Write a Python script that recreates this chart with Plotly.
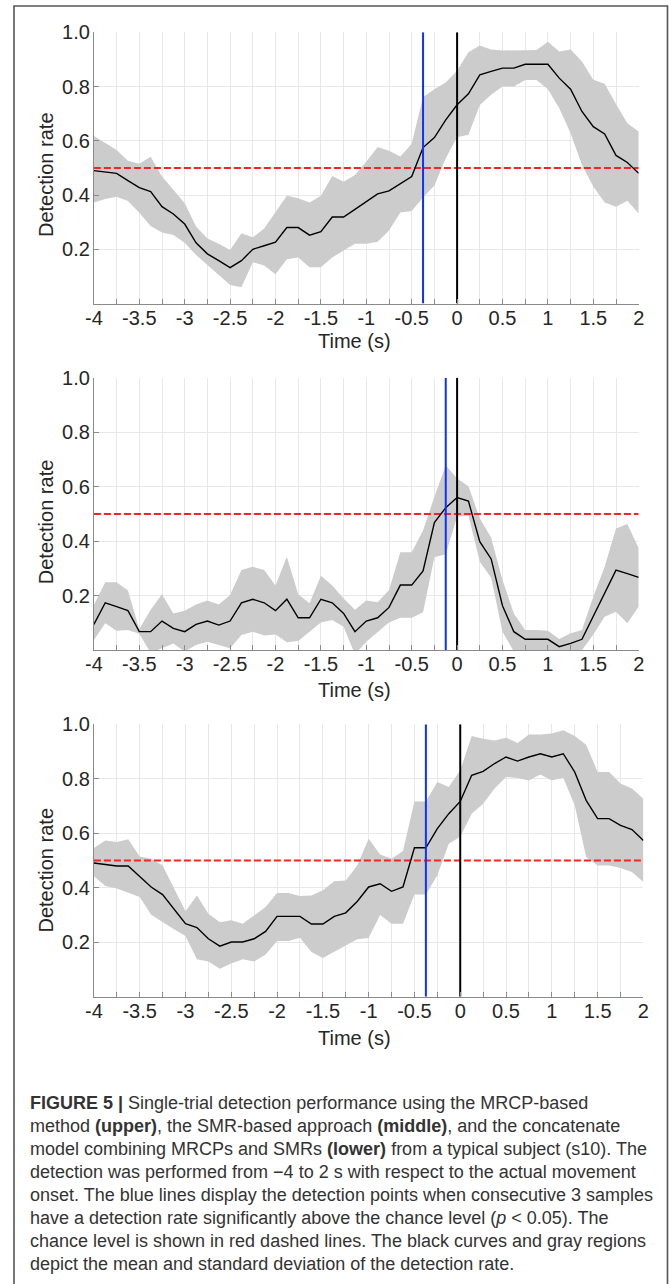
import plotly.graph_objects as go

W, H = 669, 1284

# ---------------- data ----------------
time_s = [-4 + 0.125 * i for i in range(49)]

mrcp_mean = [0.490, 0.485, 0.480, 0.453, 0.427, 0.413, 0.357, 0.330, 0.293, 0.224, 0.183, 0.158, 0.132,
             0.158, 0.200, 0.213, 0.226, 0.280, 0.280, 0.252, 0.265, 0.319, 0.319, 0.347, 0.376, 0.404,
             0.415, 0.441, 0.468, 0.575, 0.612, 0.677, 0.733, 0.773, 0.843, 0.856, 0.868, 0.868, 0.882,
             0.882, 0.882, 0.831, 0.790, 0.708, 0.652, 0.625, 0.546, 0.520, 0.480]
mrcp_upper = [0.618, 0.591, 0.566, 0.526, 0.515, 0.541, 0.468, 0.419, 0.370, 0.284, 0.240, 0.220, 0.197,
              0.259, 0.244, 0.277, 0.335, 0.397, 0.388, 0.372, 0.397, 0.470, 0.449, 0.474, 0.523, 0.577,
              0.563, 0.542, 0.589, 0.761, 0.790, 0.815, 0.858, 0.926, 0.951, 0.937, 0.933, 0.933, 0.935,
              0.935, 0.965, 0.929, 0.937, 0.892, 0.825, 0.810, 0.736, 0.665, 0.634]
mrcp_lower = [0.372, 0.385, 0.394, 0.378, 0.335, 0.286, 0.262, 0.253, 0.224, 0.179, 0.142, 0.105, 0.068,
              0.060, 0.152, 0.140, 0.108, 0.163, 0.170, 0.134, 0.134, 0.170, 0.195, 0.220, 0.220, 0.228,
              0.269, 0.336, 0.341, 0.391, 0.435, 0.536, 0.613, 0.622, 0.732, 0.770, 0.800, 0.800, 0.824,
              0.824, 0.790, 0.720, 0.628, 0.511, 0.431, 0.372, 0.357, 0.379, 0.332]

smr_mean = [0.095, 0.174, 0.160, 0.145, 0.068, 0.068, 0.107, 0.080, 0.068, 0.095, 0.107, 0.092, 0.107,
            0.174, 0.187, 0.174, 0.145, 0.187, 0.119, 0.119, 0.187, 0.174, 0.135, 0.068, 0.107, 0.119,
            0.157, 0.239, 0.239, 0.291, 0.468, 0.523, 0.560, 0.547, 0.398, 0.335, 0.163, 0.068, 0.040,
            0.040, 0.040, 0.013, 0.025, 0.040, 0.123, 0.205, 0.294, 0.281, 0.267]
smr_upper = [0.166, 0.249, 0.249, 0.219, 0.077, 0.148, 0.205, 0.135, 0.145, 0.168, 0.182, 0.168, 0.203,
             0.294, 0.306, 0.294, 0.237, 0.343, 0.205, 0.172, 0.273, 0.237, 0.190, 0.148, 0.182, 0.176,
             0.221, 0.359, 0.359, 0.439, 0.563, 0.679, 0.630, 0.602, 0.484, 0.413, 0.258, 0.135, 0.074,
             0.074, 0.071, 0.041, 0.062, 0.074, 0.196, 0.306, 0.447, 0.463, 0.374]
smr_lower = [0.037, 0.099, 0.071, 0.074, 0.060, -0.010, 0.007, 0.025, -0.005, 0.019, 0.031, 0.019, 0.007,
             0.056, 0.068, 0.054, 0.058, 0.029, 0.034, 0.068, 0.102, 0.111, 0.086, -0.015, 0.031, 0.068,
             0.102, 0.119, 0.119, 0.139, 0.341, 0.352, 0.490, 0.494, 0.325, 0.266, 0.068, -0.005, -0.030,
             -0.010, -0.010, -0.020, -0.010, 0.000, 0.058, 0.123, 0.141, 0.099, 0.160]

comb_mean = [0.491, 0.486, 0.480, 0.480, 0.440, 0.403, 0.375, 0.321, 0.268, 0.254, 0.213, 0.186, 0.201,
             0.201, 0.213, 0.240, 0.295, 0.295, 0.295, 0.267, 0.267, 0.295, 0.308, 0.350, 0.403, 0.415,
             0.387, 0.403, 0.547, 0.547, 0.617, 0.672, 0.717, 0.813, 0.827, 0.856, 0.880, 0.865, 0.880,
             0.892, 0.880, 0.892, 0.825, 0.721, 0.654, 0.654, 0.629, 0.614, 0.574]
comb_upper = [0.546, 0.574, 0.568, 0.578, 0.515, 0.507, 0.482, 0.397, 0.314, 0.372, 0.305, 0.274, 0.281,
              0.268, 0.299, 0.330, 0.381, 0.381, 0.370, 0.372, 0.391, 0.424, 0.427, 0.482, 0.580, 0.522,
              0.507, 0.535, 0.717, 0.717, 0.788, 0.770, 0.831, 0.957, 0.947, 0.941, 0.951, 0.931, 0.963,
              0.963, 0.966, 0.978, 0.957, 0.925, 0.825, 0.825, 0.783, 0.764, 0.727]
comb_lower = [0.442, 0.407, 0.397, 0.382, 0.366, 0.301, 0.274, 0.248, 0.223, 0.138, 0.130, 0.103, 0.122,
              0.138, 0.130, 0.155, 0.205, 0.205, 0.217, 0.164, 0.142, 0.167, 0.189, 0.211, 0.216, 0.300,
              0.268, 0.268, 0.375, 0.375, 0.446, 0.562, 0.587, 0.672, 0.708, 0.764, 0.807, 0.803, 0.794,
              0.816, 0.794, 0.804, 0.703, 0.513, 0.482, 0.482, 0.473, 0.458, 0.421]

detection_points = [-0.375, -0.125, -0.375]   # blue lines (s)
onset_time = 0.0                               # black line (s)
chance_level = 0.5                             # red dashed line

x_major_vals = [-4, -3.5, -3, -2.5, -2, -1.5, -1, -0.5, 0, 0.5, 1, 1.5, 2]
x_major_text = ["-4", "-3.5", "-3", "-2.5", "-2", "-1.5", "-1", "-0.5", "0", "0.5", "1", "1.5", "2"]
x_minor_vals = [-4 + 0.25 * i for i in range(25)]
y_tick_vals = [0.2, 0.4, 0.6, 0.8, 1.0]
y_tick_text = ["0.2", "0.4", "0.6", "0.8", "1.0"]

caption_lines = [
    "<b>FIGURE 5 |</b> Single-trial detection performance using the MRCP-based",
    "method <b>(upper)</b>, the SMR-based approach <b>(middle)</b>, and the concatenate",
    "model combining MRCPs and SMRs <b>(lower)</b> from a typical subject (s10). The",
    "detection was performed from \u22124 to 2 s with respect to the actual movement",
    "onset. The blue lines display the detection points when consecutive 3 samples",
    "have a detection rate significantly above the chance level (<i>p</i> &lt; 0.05). The",
    "chance level is shown in red dashed lines. The black curves and gray regions",
    "depict the mean and standard deviation of the detection rate.",
]

panels = [(mrcp_mean, mrcp_upper, mrcp_lower),
          (smr_mean, smr_upper, smr_lower),
          (comb_mean, comb_upper, comb_lower)]

# ---------------- layout geometry (pixels) ----------------
plot_px = [  # x0, x1, ytop, ybottom
    (93.9, 638.7, 32.3, 303.5),
    (93.9, 638.7, 377.7, 650.2),
    (93.9, 643.4, 724.3, 996.8),
]
ytitle_cy = [174.5, 521.7, 870.0]
xtitle_cy = [341.0, 690.0, 1037.5]

FONT = "Liberation Sans, Arial, sans-serif"
TXT = "#262626"
GRID = "#e8e8e8"
AXC = "#8a8a8a"
BAND = "#cccccc"

fig = go.Figure()
layout = dict(width=W, height=H, margin=dict(l=0, r=0, t=0, b=0, pad=0, autoexpand=False),
              paper_bgcolor="white", plot_bgcolor="white", showlegend=False,
              font=dict(family=FONT, size=20, color=TXT))
annotations = []
shapes = []

for k, ((m, up, lo), (x0, x1, yt, yb), dp) in enumerate(zip(panels, plot_px, detection_points)):
    sfx = "" if k == 0 else str(k + 1)
    xa, ya = "x" + sfx, "y" + sfx
    fig.add_trace(go.Scatter(x=time_s + time_s[::-1], y=up + lo[::-1], fill="toself",
                             fillcolor=BAND, line=dict(width=0), mode="lines",
                             hoverinfo="skip", xaxis=xa, yaxis=ya))
    fig.add_trace(go.Scatter(x=[time_s[0], time_s[-1]], y=[chance_level, chance_level], mode="lines",
                             line=dict(color="#ff2020", width=2, dash="7px,3px"),
                             xaxis=xa, yaxis=ya))
    fig.add_trace(go.Scatter(x=time_s, y=m, mode="lines", line=dict(color="black", width=1.4),
                             xaxis=xa, yaxis=ya))
    fig.add_trace(go.Scatter(x=[dp, dp], y=[0, 1], mode="lines", line=dict(color="#1030ff", width=2),
                             xaxis=xa, yaxis=ya))
    fig.add_trace(go.Scatter(x=[onset_time, onset_time], y=[0, 1], mode="lines",
                             line=dict(color="black", width=2), xaxis=xa, yaxis=ya))

    layout["xaxis" + sfx] = dict(
        domain=[x0 / W, x1 / W], anchor=ya, range=[-4, 2], fixedrange=True, automargin=False,
        tickmode="array", tickvals=x_major_vals, ticktext=x_major_text,
        ticks="inside", ticklen=5, tickcolor=AXC, tickwidth=1, ticklabelstandoff=-4,
        showgrid=True, gridcolor=GRID, gridwidth=1, zeroline=False,
        showline=True, linecolor=AXC, linewidth=1,
        minor=dict(tickmode="array", tickvals=x_minor_vals, ticks="inside", ticklen=5,
                   tickcolor=AXC, showgrid=True, gridcolor=GRID, gridwidth=1),
        tickfont=dict(family=FONT, size=20, color=TXT),
    )
    layout["yaxis" + sfx] = dict(
        domain=[1 - yb / H, 1 - yt / H], anchor=xa, range=[0, 1], fixedrange=True, automargin=False,
        tickmode="array", tickvals=y_tick_vals, ticktext=y_tick_text,
        ticks="inside", ticklen=5, tickcolor=AXC, tickwidth=1, ticklabelstandoff=-1,
        showgrid=True, gridcolor=GRID, gridwidth=1, zeroline=False,
        showline=True, linecolor=AXC, linewidth=1,
        tickfont=dict(family=FONT, size=20, color=TXT),
    )
    annotations.append(dict(text="Detection rate", textangle=-90, x=45.5 / W, y=1 - ytitle_cy[k] / H,
                            xref="paper", yref="paper", xanchor="center", yanchor="middle",
                            showarrow=False, font=dict(family=FONT, size=20, color=TXT)))
    annotations.append(dict(text="Time (s)", x=354 / W, y=1 - xtitle_cy[k] / H,
                            xref="paper", yref="paper", xanchor="center", yanchor="middle",
                            showarrow=False, font=dict(family=FONT, size=20, color=TXT)))

cap_y0, cap_step = 1102.7, 23.1
for i, line in enumerate(caption_lines):
    annotations.append(dict(text=line, x=28 / W, y=1 - (cap_y0 + i * cap_step) / H,
                            xref="paper", yref="paper", xanchor="left", yanchor="middle",
                            showarrow=False, align="left",
                            font=dict(family=FONT, size=18, color="#333333")))

shapes.append(dict(type="rect", xref="paper", yref="paper", x0=14 / W, x1=667.5 / W,
                   y0=-0.05, y1=1 - 6 / H, line=dict(color="#555555", width=1.6),
                   fillcolor="rgba(0,0,0,0)", layer="above"))

layout["annotations"] = annotations
layout["shapes"] = shapes
fig.update_layout(**layout)

fix_page = ("document.body.style.margin='0';document.body.style.padding='0';"
            "document.documentElement.style.overflow='hidden';document.body.style.overflow='hidden';")
fig.write_html("out.html", post_script=fix_page, config={"displayModeBar": False})
